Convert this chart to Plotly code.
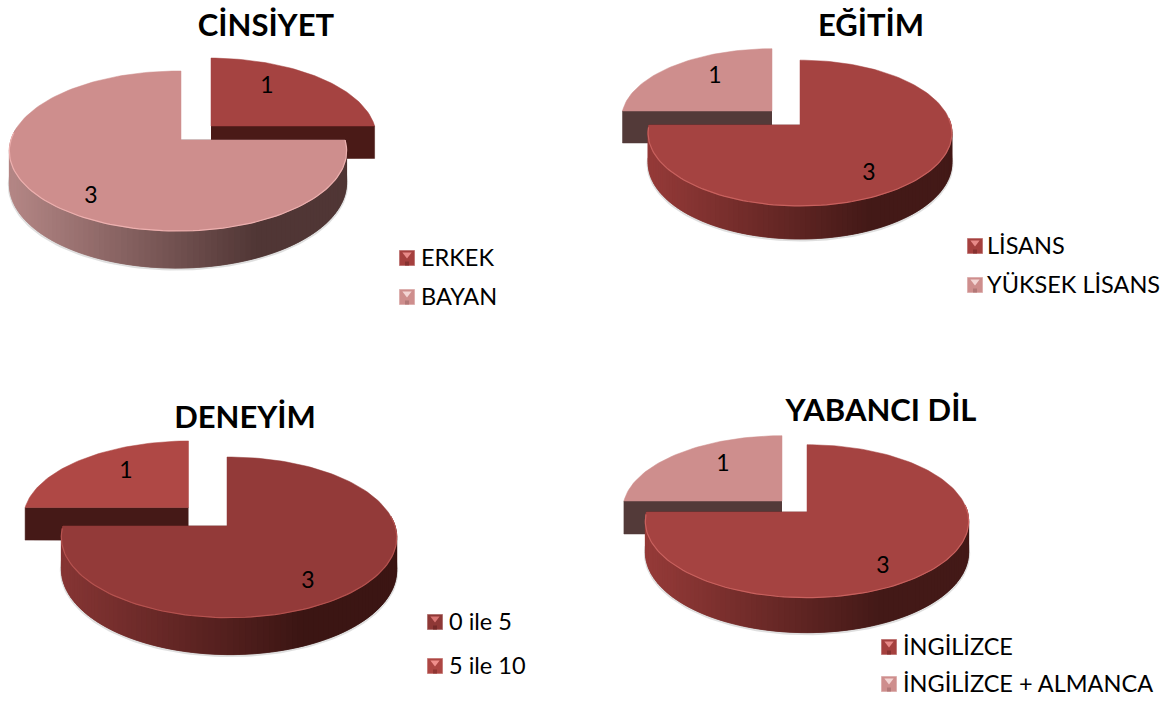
import math
import plotly.graph_objects as go

# ---------- data ----------
titles = ["CİNSİYET", "EĞİTİM", "DENEYİM", "YABANCI DİL"]
pie1_labels = ["ERKEK", "BAYAN"]
pie1_values = [1, 3]
pie2_labels = ["LİSANS", "YÜKSEK LİSANS"]
pie2_values = [3, 1]
pie3_labels = ["0 ile 5", "5 ile 10"]
pie3_values = [3, 1]
pie4_labels = ["İNGİLİZCE", "İNGİLİZCE + ALMANCA"]
pie4_values = [3, 1]

# ---------- layout and style, kept apart from the data ----------
RED = dict(top="#A54341", wall_l="#953A38", wall_r="#431917", end="#4A1A17", rim="#C8615E",
           sw="#A5403E", tri="#E88A88", low="#7C2D2B")
PINK = dict(top="#CE8E8D", wall_l="#B28584", wall_r="#503635", end="#533A39", rim="#EDB0AF",
            sw="#CE8E8D", tri="#F3D5D4", low="#A87170")
DARK = dict(top="#933A39", wall_l="#863534", wall_r="#3B1513", end="#451917", rim="#B5524F",
            sw="#8E3836", tri="#D87573", low="#6B2625")
MID = dict(top="#AF4845", wall_l="#953A38", wall_r="#431917", end="#451917", rim="#C8615E",
           sw="#AD4643", tri="#F08F8C", low="#85302E")

PIES = [
    dict(labels=pie1_labels, values=pie1_values, title=titles[0], title_xy=(266, 28),
         a=167, b=78.5, k=0.1375, m=0.0178,
         apex=[(211, 126), (181, 140)], sx=[0.997, 1], sy=[0.985, 1], depth=[33, 32],
         style=[RED, PINK], text_xy=[(267, 87.5), (91, 197.5)],
         legend_x=407, legend_y=[258, 297], legend_tx=421),
    dict(labels=pie2_labels, values=pie2_values, title=titles[1], title_xy=(871, 28),
         a=151, b=72, k=0.11, m=0.0,
         apex=[(800, 125), (772, 111)], sx=[1, 0.99], sy=[1, 0.96], depth=[29.5, 32],
         style=[RED, PINK], text_xy=[(869, 174.5), (715, 77.5)],
         legend_x=975, legend_y=[246, 285], legend_tx=987),
    dict(labels=pie3_labels, values=pie3_values, title=titles[2], title_xy=(245, 420),
         a=166, b=78.7, k=0.141, m=-0.012,
         apex=[(227, 526), (188.5, 507.5)], sx=[1, 0.996], sy=[1, 0.965], depth=[31.8, 33],
         style=[DARK, MID], text_xy=[(308, 582.5), (126, 472.5)],
         legend_x=435, legend_y=[622, 666], legend_tx=449),
    dict(labels=pie4_labels, values=pie4_values, title=titles[3], title_xy=(881, 413),
         a=160.5, b=75.4, k=0.12, m=0.0,
         apex=[(807, 512), (782, 501)], sx=[1, 0.985], sy=[1, 0.97], depth=[30.8, 33],
         style=[RED, PINK], text_xy=[(883, 567.5), (723, 465.5)],
         legend_x=889, legend_y=[647, 684], legend_tx=903),
]

FONT = "Lato"
TITLE_SIZE = 31
LABEL_SIZE = 23
LEGEND_SIZE = 23.5
LEGEND_TEXT_DY = 2.5


def hex_rgb(c):
    return tuple(int(c[i:i + 2], 16) for i in (1, 3, 5))


def mix(c1, c2, t):
    a, b = hex_rgb(c1), hex_rgb(c2)
    return "rgb(%d,%d,%d)" % tuple(round(a[i] + (b[i] - a[i]) * t) for i in range(3))


def project(p, i, theta, r=1.0):
    """Map an angle (clockwise from 12 o'clock) on the tilted pie to plot x/y."""
    u = r * math.sin(theta)
    w = -r * math.cos(theta)
    d = 1 - p["k"] * w + p["m"] * u
    ax, ay = p["apex"][i]
    return ax + p["a"] * p["sx"][i] * u / d, ay + p["b"] * p["sy"][i] * w / d, d


fig = go.Figure()


def poly(xs, ys, color):
    fig.add_trace(go.Scatter(x=xs, y=ys, mode="lines", fill="toself", fillcolor=color,
                             line=dict(color=color, width=0.5),
                             hoverinfo="skip", showlegend=False))


for p in PIES:
    total = sum(p["values"])
    spans, start = [], 0.0
    for v in p["values"]:
        end = start + 2 * math.pi * v / total
        spans.append((start, end))
        start = end
    order = sorted(range(len(p["values"])), key=lambda j: p["values"][j])
    for i in order:
        t0, t1 = spans[i]
        st = p["style"][i]
        depth = p["depth"][i]
        ax, ay = p["apex"][i]
        n = max(30, int(200 * (t1 - t0) / (2 * math.pi)))
        angs = [t0 + (t1 - t0) * j / n for j in range(n + 1)]
        rim = [project(p, i, t) for t in angs]

        # flat cut faces that look towards the viewer
        for t in (t0, t1):
            if abs(math.cos(t)) < 1e-6:
                x, y, d = project(p, i, t)
                poly([ax, x, x, ax], [ay, y, y + depth / d, ay + depth], st["end"])

        # curved side wall, shaded left to right; the small far slices show none
        xmin = ax - p["a"] * p["sx"][i]
        xmax = ax + p["a"] * p["sx"][i]
        limit = ay - p["b"] * p["k"]
        front = []
        if p["values"][i] * 2 > total:
            front = [j for j in range(n) if rim[j][1] >= limit and rim[j + 1][1] >= limit]
        if front:
            fig.add_trace(go.Scatter(
                x=[rim[j][0] for j in front],
                y=[rim[j][1] + depth / rim[j][2] + 1 for j in front],
                mode="lines", line=dict(color="rgba(150,150,150,0.3)", width=3),
                hoverinfo="skip", showlegend=False))
        for j in front:
            x0, y0, d0 = rim[j]
            x1, y1, d1 = rim[min(j + 2, n)]
            f = min(1.0, ((x0 + x1) / 2 - xmin) / (xmax - xmin) / 0.72)
            c = mix(st["wall_l"], st["wall_r"], f)
            poly([x0, x1, x1, x0], [y0, y1, y1 + depth / d1, y0 + depth / d0], c)

        # top face
        poly([ax] + [q[0] for q in rim] + [ax], [ay] + [q[1] for q in rim] + [ay], st["top"])

        # light bevel on the front rim
        if front:
            fig.add_trace(go.Scatter(
                x=[rim[j][0] for j in front], y=[rim[j][1] for j in front],
                mode="lines", line=dict(color=st["rim"], width=1.2),
                hoverinfo="skip", showlegend=False))

    # data labels
    fig.add_trace(go.Scatter(
        x=[xy[0] for xy in p["text_xy"]], y=[xy[1] for xy in p["text_xy"]],
        mode="text", text=[str(v) for v in p["values"]],
        textfont=dict(family=FONT, size=LABEL_SIZE, color="#000000"),
        hoverinfo="skip", showlegend=False))

    # legend swatches and entries
    for i, lab in enumerate(p["labels"]):
        st = p["style"][i]
        y = p["legend_y"][i]
        fig.add_trace(go.Scatter(
            x=[p["legend_x"]], y=[y], mode="markers",
            marker=dict(symbol="square", size=15, color=st["sw"],
                        line=dict(color=mix(st["sw"], "#FFFFFF", 0.3), width=1)),
            hoverinfo="skip", showlegend=False))
        fig.add_trace(go.Scatter(
            x=[p["legend_x"]], y=[y + 5.5], mode="markers",
            marker=dict(symbol="square", size=4, color=mix(st["low"], st["sw"], 0.25)),
            hoverinfo="skip", showlegend=False))
        fig.add_trace(go.Scatter(
            x=[p["legend_x"]], y=[y - 3.5], mode="markers",
            marker=dict(symbol="triangle-down", size=8, color=st["tri"]),
            hoverinfo="skip", showlegend=False))
        fig.add_trace(go.Scatter(
            x=[p["legend_tx"]], y=[y + LEGEND_TEXT_DY], mode="text", text=[lab],
            textposition="middle right",
            textfont=dict(family=FONT, size=LEGEND_SIZE, color="#000000"),
            hoverinfo="skip", showlegend=False))

    # title
    fig.add_trace(go.Scatter(
        x=[p["title_xy"][0]], y=[p["title_xy"][1]], mode="text", text=["<b>%s</b>" % p["title"]],
        textfont=dict(family=FONT, size=TITLE_SIZE, color="#000000"),
        hoverinfo="skip", showlegend=False))

fig.update_layout(
    width=1172, height=702, margin=dict(l=0, r=0, t=0, b=0),
    paper_bgcolor="#FFFFFF", plot_bgcolor="#FFFFFF", showlegend=False,
    xaxis=dict(range=[0, 1172], visible=False, fixedrange=True),
    yaxis=dict(range=[702, 0], visible=False, fixedrange=True),
)
fig.write_html("out.html", config={"displayModeBar": False},
               post_script="document.body.style.margin='0';document.body.style.overflow='hidden';")
